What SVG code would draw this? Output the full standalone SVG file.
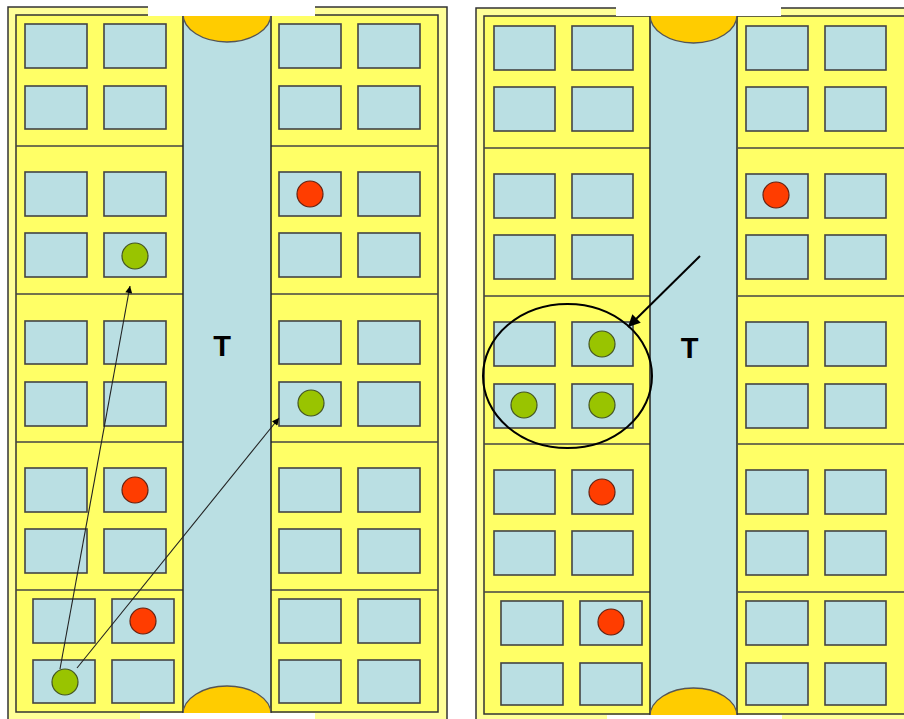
<svg xmlns="http://www.w3.org/2000/svg" width="904" height="719" viewBox="0 0 904 719">
<defs>
<style>
.outer{fill:#FFFF99;stroke:#333;stroke-width:1.5}
.inner{fill:#FFFF66;stroke:#333;stroke-width:1.5}
.shaft{fill:#BADFE3;stroke:#222;stroke-width:1.5}
.win{fill:#BADFE3;stroke:#444;stroke-width:1.6}
.floor{stroke:#444;stroke-width:1.3;fill:none}
.cap{fill:#FFCC00;stroke:#555;stroke-width:1.3}
.g{fill:#99C400;stroke:#445522;stroke-width:1.2}
.r{fill:#FF3D00;stroke:#662211;stroke-width:1.2}
.wh{fill:#FFFFFF}
.lbl{font-family:"Liberation Sans",Arial,sans-serif;font-weight:bold;font-size:29px;fill:#000;text-anchor:middle}
.thin{stroke:#222;stroke-width:1.1;fill:none}
.thick{stroke:#000;stroke-width:2;fill:none}
</style>
<marker id="ah" viewBox="0 0 10 10" refX="10" refY="5" markerWidth="9" markerHeight="7" markerUnits="userSpaceOnUse" orient="auto"><path d="M0,0 L10,5 L0,10 z" fill="#000"/></marker>
<marker id="ahb" viewBox="0 0 10 10" refX="10" refY="5" markerWidth="16" markerHeight="12" markerUnits="userSpaceOnUse" orient="auto"><path d="M0,0 L10,5 L0,10 z" fill="#000"/></marker>
</defs>

<g id="left-building">
<rect class="outer" x="8" y="7" width="439" height="720"/>
<rect class="inner" x="16" y="15" width="422" height="697"/>
<g class="floor">
<line x1="16" y1="146" x2="183" y2="146"/><line x1="271" y1="146" x2="438" y2="146"/>
<line x1="16" y1="294" x2="183" y2="294"/><line x1="271" y1="294" x2="438" y2="294"/>
<line x1="16" y1="442" x2="183" y2="442"/><line x1="271" y1="442" x2="438" y2="442"/>
<line x1="16" y1="590" x2="183" y2="590"/><line x1="271" y1="590" x2="438" y2="590"/>
</g>
<rect class="shaft" x="183" y="10" width="88" height="705"/>
<ellipse class="cap" cx="227" cy="14" rx="44" ry="28"/>
<ellipse class="cap" cx="227" cy="714" rx="44" ry="28"/>
<g id="left-windows">
<rect class="win" x="25" y="24" width="62" height="44"/><rect class="win" x="104" y="24" width="62" height="44"/><rect class="win" x="279" y="24" width="62" height="44"/><rect class="win" x="358" y="24" width="62" height="44"/>
<rect class="win" x="25" y="86" width="62" height="43"/><rect class="win" x="104" y="86" width="62" height="43"/><rect class="win" x="279" y="86" width="62" height="43"/><rect class="win" x="358" y="86" width="62" height="43"/>
<rect class="win" x="25" y="172" width="62" height="44"/><rect class="win" x="104" y="172" width="62" height="44"/><rect class="win" x="279" y="172" width="62" height="44"/><rect class="win" x="358" y="172" width="62" height="44"/>
<rect class="win" x="25" y="233" width="62" height="44"/><rect class="win" x="104" y="233" width="62" height="44"/><rect class="win" x="279" y="233" width="62" height="44"/><rect class="win" x="358" y="233" width="62" height="44"/>
<rect class="win" x="25" y="321" width="62" height="43"/><rect class="win" x="104" y="321" width="62" height="43"/><rect class="win" x="279" y="321" width="62" height="43"/><rect class="win" x="358" y="321" width="62" height="43"/>
<rect class="win" x="25" y="382" width="62" height="44"/><rect class="win" x="104" y="382" width="62" height="44"/><rect class="win" x="279" y="382" width="62" height="44"/><rect class="win" x="358" y="382" width="62" height="44"/>
<rect class="win" x="25" y="468" width="62" height="44"/><rect class="win" x="104" y="468" width="62" height="44"/><rect class="win" x="279" y="468" width="62" height="44"/><rect class="win" x="358" y="468" width="62" height="44"/>
<rect class="win" x="25" y="529" width="62" height="44"/><rect class="win" x="104" y="529" width="62" height="44"/><rect class="win" x="279" y="529" width="62" height="44"/><rect class="win" x="358" y="529" width="62" height="44"/>
<rect class="win" x="33" y="599" width="62" height="44"/><rect class="win" x="112" y="599" width="62" height="44"/><rect class="win" x="279" y="599" width="62" height="44"/><rect class="win" x="358" y="599" width="62" height="44"/>
<rect class="win" x="33" y="660" width="62" height="43"/><rect class="win" x="112" y="660" width="62" height="43"/><rect class="win" x="279" y="660" width="62" height="43"/><rect class="win" x="358" y="660" width="62" height="43"/>
</g>
<text class="lbl" x="222" y="356">T</text>
<g id="left-dots">
<circle class="g" cx="135" cy="256" r="13"/>
<circle class="r" cx="310" cy="194" r="13"/>
<circle class="g" cx="311" cy="403" r="13"/>
<circle class="r" cx="135" cy="490" r="13"/>
<circle class="r" cx="143" cy="621" r="13"/>
<circle class="g" cx="65" cy="682" r="13"/>
</g>
</g>

<g id="right-building">
<rect class="outer" x="476" y="8" width="440" height="720"/>
<rect class="inner" x="484" y="16" width="424" height="698"/>
<g class="floor">
<line x1="484" y1="148" x2="651" y2="148"/><line x1="738" y1="148" x2="908" y2="148"/>
<line x1="484" y1="296" x2="651" y2="296"/><line x1="738" y1="296" x2="908" y2="296"/>
<line x1="484" y1="444" x2="651" y2="444"/><line x1="738" y1="444" x2="908" y2="444"/>
<line x1="484" y1="592" x2="651" y2="592"/><line x1="738" y1="592" x2="908" y2="592"/>
</g>
<rect class="shaft" x="650" y="10" width="87" height="707"/>
<ellipse class="cap" cx="693.5" cy="15" rx="43.5" ry="28"/>
<ellipse class="cap" cx="693.5" cy="716" rx="43.5" ry="28"/>
<g id="right-windows">
<rect class="win" x="494" y="26" width="61" height="44"/><rect class="win" x="572" y="26" width="61" height="44"/><rect class="win" x="746" y="26" width="62" height="44"/><rect class="win" x="825" y="26" width="61" height="44"/>
<rect class="win" x="494" y="87" width="61" height="44"/><rect class="win" x="572" y="87" width="61" height="44"/><rect class="win" x="746" y="87" width="62" height="44"/><rect class="win" x="825" y="87" width="61" height="44"/>
<rect class="win" x="494" y="174" width="61" height="44"/><rect class="win" x="572" y="174" width="61" height="44"/><rect class="win" x="746" y="174" width="62" height="44"/><rect class="win" x="825" y="174" width="61" height="44"/>
<rect class="win" x="494" y="235" width="61" height="44"/><rect class="win" x="572" y="235" width="61" height="44"/><rect class="win" x="746" y="235" width="62" height="44"/><rect class="win" x="825" y="235" width="61" height="44"/>
<rect class="win" x="494" y="322" width="61" height="44"/><rect class="win" x="572" y="322" width="61" height="44"/><rect class="win" x="746" y="322" width="62" height="44"/><rect class="win" x="825" y="322" width="61" height="44"/>
<rect class="win" x="494" y="384" width="61" height="44"/><rect class="win" x="572" y="384" width="61" height="44"/><rect class="win" x="746" y="384" width="62" height="44"/><rect class="win" x="825" y="384" width="61" height="44"/>
<rect class="win" x="494" y="470" width="61" height="44"/><rect class="win" x="572" y="470" width="61" height="44"/><rect class="win" x="746" y="470" width="62" height="44"/><rect class="win" x="825" y="470" width="61" height="44"/>
<rect class="win" x="494" y="531" width="61" height="44"/><rect class="win" x="572" y="531" width="61" height="44"/><rect class="win" x="746" y="531" width="62" height="44"/><rect class="win" x="825" y="531" width="61" height="44"/>
<rect class="win" x="501" y="601" width="62" height="44"/><rect class="win" x="580" y="601" width="62" height="44"/><rect class="win" x="746" y="601" width="62" height="44"/><rect class="win" x="825" y="601" width="61" height="44"/>
<rect class="win" x="501" y="663" width="62" height="42"/><rect class="win" x="580" y="663" width="62" height="42"/><rect class="win" x="746" y="663" width="62" height="42"/><rect class="win" x="825" y="663" width="61" height="42"/>
</g>
<text class="lbl" x="689.5" y="358">T</text>
<g id="right-dots">
<circle class="r" cx="776" cy="195" r="13"/>
<circle class="g" cx="602" cy="344" r="13"/>
<circle class="g" cx="524" cy="405" r="13"/>
<circle class="g" cx="602" cy="405" r="13"/>
<circle class="r" cx="602" cy="492" r="13"/>
<circle class="r" cx="611" cy="622" r="13"/>
</g>
</g>

<g id="masks">
<rect class="wh" x="148" y="0" width="167" height="16"/>
<rect class="wh" x="140" y="713" width="175" height="6"/>
<rect class="wh" x="616" y="0" width="165" height="16"/>
<rect class="wh" x="607" y="715" width="175" height="4"/>
</g>

<g id="connectors">
<line class="thin" x1="60" y1="669" x2="130" y2="286" marker-end="url(#ah)"/>
<line class="thin" x1="77" y1="668" x2="279" y2="418" marker-end="url(#ah)"/>
<ellipse class="thick" cx="567.5" cy="376" rx="84.5" ry="72"/>
<line class="thick" x1="700" y1="256" x2="628" y2="327" marker-end="url(#ahb)"/>
</g>
</svg>
